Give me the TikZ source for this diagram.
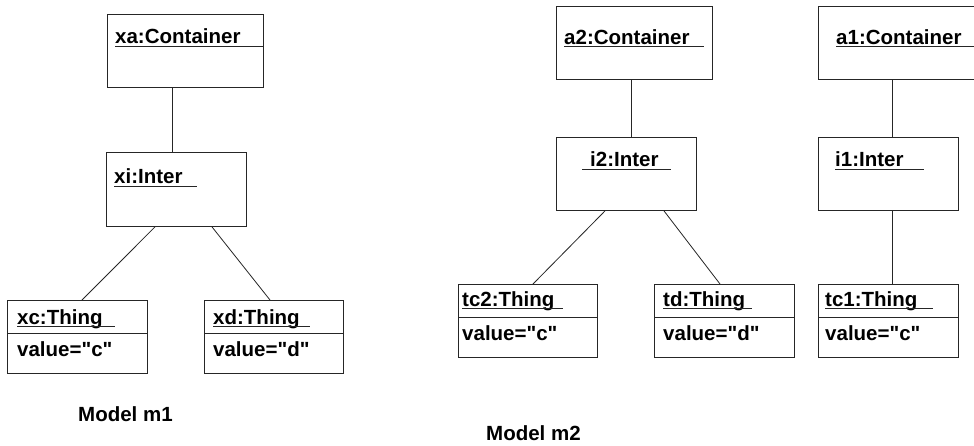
\documentclass[tikz,border=0pt]{standalone}
\usepackage{fontspec}
\setmainfont{Liberation Sans}[Ligatures=TeXOff]
\begin{document}
\begin{tikzpicture}[x=1pt,y=-1pt,
  box/.style={draw=black!85, line width=0.9pt, anchor=north west, inner sep=0pt},
  lbl/.style={anchor=base west, inner sep=0pt, font=\fontsize{20.5}{24}\selectfont\bfseries},
  uline/.style={draw=black!85, line width=0.9pt},
  conn/.style={draw=black!85, line width=0.8pt}]
\useasboundingbox[fill=white] (0,0) rectangle (974,445);

% ---------- Model m1 ----------
\node[box, minimum width=156, minimum height=73] (xa) at (107,14) {};
\node[box, minimum width=140, minimum height=74] (xi) at (106,152) {};
\node[box, minimum width=140, minimum height=73] (xc) at (7,300) {};
\node[box, minimum width=139, minimum height=73] (xd) at (204,300) {};

\node[lbl] (xat) at (115,43.5) {xa:Container};
\draw[uline] (115,46) -- (263,46);
\node[lbl] (xit) at (114,183.5) {xi:Inter};
\draw[uline] (114,186) -- (197,186);

\node[lbl] (xct) at (17,324) {xc:Thing};
\draw[uline] (17,326) -- (115,326);
\draw[uline] (7,333) -- (147,333);
\node[lbl] (xcv) at (17,356) {value="c"};

\node[lbl] (xdt) at (213,324) {xd:Thing};
\draw[uline] (213,326) -- (310,326);
\draw[uline] (204,333) -- (343,333);
\node[lbl] (xdv) at (213,356) {value="d"};

\draw[conn] ([xshift=65]xa.south west) -- ([xshift=66]xi.north west);
\draw[conn] ([xshift=49]xi.south west) -- ([xshift=75]xc.north west);
\draw[conn] ([xshift=106]xi.south west) -- ([xshift=66]xd.north west);

\node[lbl] (m1) at (78,421) {Model m1};

% ---------- Model m2 ----------
\node[box, minimum width=156, minimum height=73] (a2) at (556,6) {};
\node[box, minimum width=162, minimum height=73] (a1) at (818,6) {};
\node[box, minimum width=140, minimum height=73] (i2) at (556,137) {};
\node[box, minimum width=140, minimum height=73] (i1) at (818,137) {};
\node[box, minimum width=139, minimum height=73] (tc2) at (458,284) {};
\node[box, minimum width=140, minimum height=73] (td) at (654,284) {};
\node[box, minimum width=140, minimum height=73] (tc1) at (818,284) {};

\node[lbl] (a2t) at (564,44) {a2:Container};
\draw[uline] (564,46.5) -- (704,46.5);
\node[lbl] (a1t) at (836,44) {a1:Container};
\draw[uline] (836,46.5) -- (975,46.5);

\node[lbl] (i2t) at (590,166.5) {i2:Inter};
\draw[uline] (582,169) -- (671,169);
\node[lbl] (i1t) at (835,166.5) {i1:Inter};
\draw[uline] (835,169) -- (924,169);

\node[lbl] (tc2t) at (462,306) {tc2:Thing};
\draw[uline] (462,308) -- (563,308);
\draw[uline] (458,317) -- (597,317);
\node[lbl] (tc2v) at (462,340) {value="c"};

\node[lbl] (tdt) at (663,306) {td:Thing};
\draw[uline] (663,308) -- (752,308);
\draw[uline] (654,317) -- (794,317);
\node[lbl] (tdv) at (663,340) {value="d"};

\node[lbl] (tc1t) at (825,306) {tc1:Thing};
\draw[uline] (825,308) -- (933,308);
\draw[uline] (818,317) -- (958,317);
\node[lbl] (tc1v) at (825,340) {value="c"};

\draw[conn] ([xshift=75]a2.south west) -- ([xshift=75]i2.north west);
\draw[conn] ([xshift=49]i2.south west) -- ([xshift=75]tc2.north west);
\draw[conn] ([xshift=108]i2.south west) -- ([xshift=66]td.north west);
\draw[conn] ([xshift=74]a1.south west) -- ([xshift=74]i1.north west);
\draw[conn] ([xshift=74]i1.south west) -- ([xshift=74]tc1.north west);

\node[lbl] (m2) at (486,440) {Model m2};
\end{tikzpicture}
\end{document}
